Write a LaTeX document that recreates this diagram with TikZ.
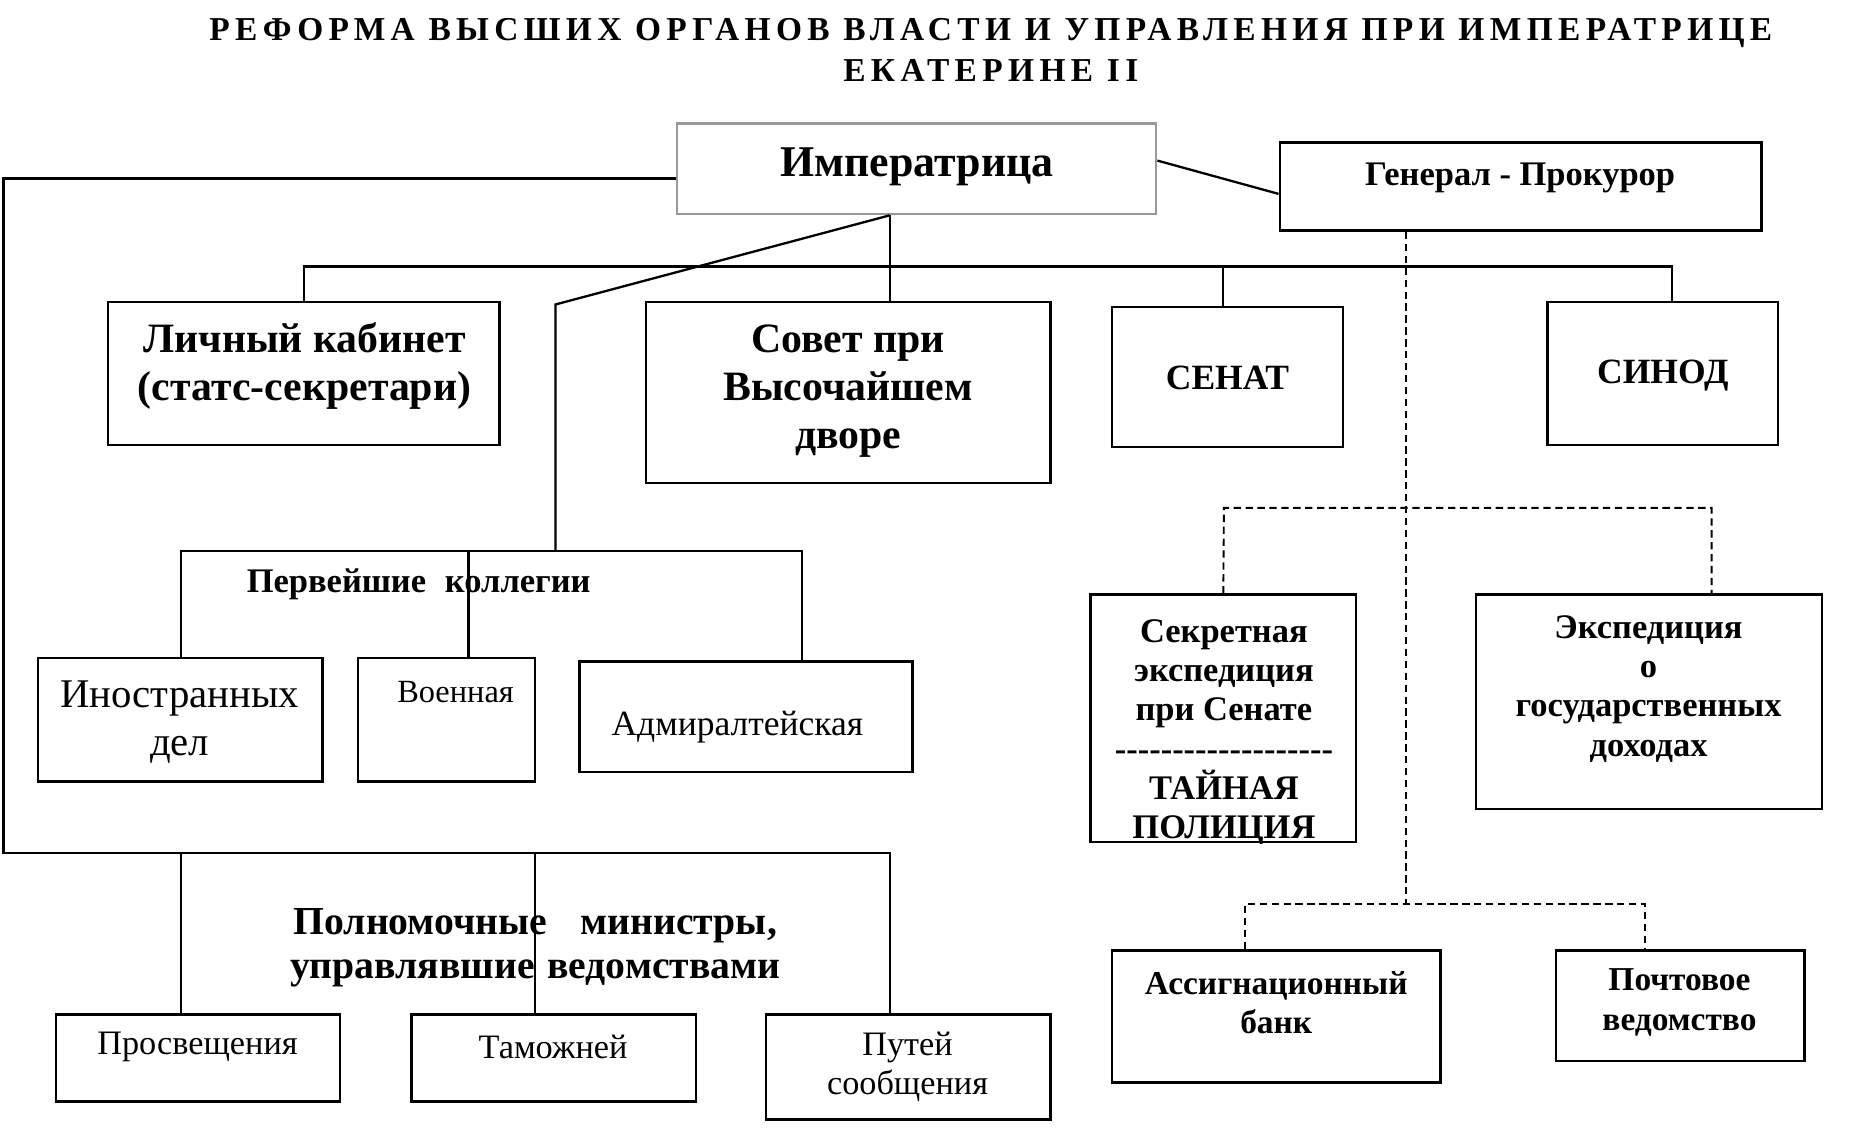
\documentclass[tikz,border=0pt]{standalone}
\usepackage{fontspec}
\setmainfont{Liberation Serif}
\newfontfamily\spacedfont[LetterSpace=16]{Liberation Serif}
\usetikzlibrary{fit}

\begin{document}
\begin{tikzpicture}[
    x=0.02cm,y=-0.02cm,
    box/.style={draw, line width=1.2pt, inner sep=0pt, fit={#1}},
    line/.style={line width=1.1pt},
    dline/.style={line width=0.9pt, dash pattern=on 3.5pt off 2.2pt},
    txt/.style={align=center, inner sep=0pt},
    hb/.style={txt, font=\bfseries\fontsize{20}{23}\selectfont},
    mb/.style={txt, font=\bfseries\fontsize{16.5}{18.8}\selectfont},
    lb/.style={txt, font=\bfseries\fontsize{19}{21}\selectfont},
    nr/.style={txt, font=\fontsize{16.4}{19}\selectfont}
    ]
    \useasboundingbox (0,0) rectangle (1568,953.4);
    % title
    \node[txt, font=\spacedfont\bfseries\fontsize{16}{19.3}\selectfont] (title) at (833,42)
      {РЕФОРМА ВЫСШИХ ОРГАНОВ ВЛАСТИ И УПРАВЛЕНИЯ ПРИ ИМПЕРАТРИЦЕ\\ЕКАТЕРИНЕ II};
    % boxes
    \node[box={(569,104) (972,180)}, draw=black!40] (imp) {};
    \node[box={(1076,120) (1481,194)}] (gen) {};
    \node[box={(91,254) (420,374)}] (kab) {};
    \node[box={(543,254) (883,406)}] (sov) {};
    \node[box={(935,258) (1129,376)}] (sen) {};
    \node[box={(1301,254) (1495,374)}] (sin) {};
    \node[box={(32,553) (271,657)}] (ino) {};
    \node[box={(301,553) (450,657)}] (voe) {};
    \node[box={(487,556) (767,649)}] (adm) {};
    \node[box={(917,500) (1140,708)}] (sek) {};
    \node[box={(1241,500) (1532,680)}] (eks) {};
    \node[box={(935,799) (1211,910)}] (asg) {};
    \node[box={(1308,799) (1517,892)}] (poc) {};
    \node[box={(47,853) (286,926)}] (pros) {};
    \node[box={(346,853) (585,926)}] (tam) {};
    \node[box={(644,853) (883,941)}] (put) {};
    % texts
    \node[hb, font=\bfseries\fontsize{21}{24}\selectfont] (imp-t) at (771,140) {Императрица};
    \node[mb] (gen-t) at (1278,150) {Генерал - Прокурор};
    \node[hb] (kab-t) at (256,308) {Личный кабинет\\(статс-секретари)};
    \node[hb] (sov-t) at (713,329) {Совет при\\Высочайшем\\дворе};
    \node[hb, font=\bfseries\fontsize{17}{20}\selectfont] (sen-t) at (1032,318) {СЕНАТ};
    \node[hb, font=\bfseries\fontsize{17}{20}\selectfont] (sin-t) at (1398,316) {СИНОД};
    \node[mb] (kol-t) at (352,491) {Первейшие\hspace{9pt}коллегии};
    \node[nr, font=\fontsize{19.5}{23}\selectfont] (ino-t) at (151,607) {Иностранных\\дел};
    \node[nr, font=\fontsize{15.5}{19}\selectfont] (voe-t) at (383,582) {Военная};
    \node[nr, font=\fontsize{17}{19}\selectfont] (adm-t) at (620,611) {Адмиралтейская};
    \begin{scope}
      \clip (sek.south west) rectangle (sek.north east);
      \node[mb] (sek-t) at (1029,616) {Секретная\\экспедиция\\при Сенате\\-{}-{}-{}-{}-{}-{}-{}-{}-{}-{}-{}-{}-{}-{}-{}-{}-{}-{}-\\ТАЙНАЯ\\ПОЛИЦИЯ};
    \end{scope}
    \node[mb] (eks-t) at (1386,579) {Экспедиция\\о\\государственных\\доходах};
    \node[mb, font=\bfseries\fontsize{16}{19}\selectfont] (asg-t) at (1073,843) {Ассигнационный\\банк};
    \node[mb, font=\bfseries\fontsize{16}{19}\selectfont] (poc-t) at (1412,843) {Почтовое\\ведомство};
    \node[lb] (min-t) at (450,797) {Полномочные\hspace{16pt}министры,\\управлявшие\hspace{6pt}ведомствами};
    \node[nr] (pros-t) at (166,880) {Просвещения};
    \node[nr] (tam-t) at (465,880) {Таможней};
    \node[nr] (put-t) at (763,897) {Путей\\сообщения};
    % solid connectors
    \draw[line] (imp.east |- 0,135) -- (gen.west |- 0,163);
    \draw[line] (imp.south -| 748,0) -- (sov.north -| 748,0);
    \draw[line] (kab.north) |- (1406,224) -- (sin.north -| 1406,0);
    \draw[line] (sen.north -| 1028,0) -- (1028,224);
    \draw[line] (imp.south -| 748,0) -- (467,256) -- (467,463);
    \draw[line] (ino.north -| 152,0) -- (152,463) -| (adm.north -| 674,0);
    \draw[line] (394,463) -- (voe.north -| 394,0);
    \draw[line] (imp.west |- 0,150) -| (3,717) -| (put.north -| 748,0);
    \draw[line] (152,717) -- (pros.north -| 152,0);
    \draw[line] (450,717) -- (tam.north -| 450,0);
    % dashed connectors
    \draw[dline] (gen.south -| 1182,0) -- (1182,760);
    \draw[dline] (sek.north) -- (1029,427) -- (1439,427) -- (eks.north -| 1439,0);
    \draw[dline] (asg.north -| 1047,0) -- (1047,760) -- (1383,760) -- (poc.north -| 1383,0);
  \end{tikzpicture}
\end{document}
